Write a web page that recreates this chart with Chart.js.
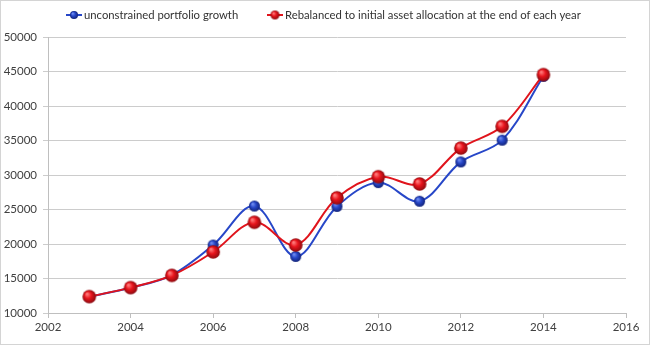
<!DOCTYPE html>
<html><head><meta charset="utf-8">
<script src="https://cdn.jsdelivr.net/npm/chart.js@4/dist/chart.umd.min.js"></script>
<style>
html,body{margin:0;padding:0;background:#fff}
#wrap{position:relative;width:650px;height:345px}
</style></head>
<body><div id="wrap"><canvas id="c"></canvas></div>
<script>
const years = [2003,2004,2005,2006,2007,2008,2009,2010,2011,2012,2013,2014];
const unconstrained = [12350,13650,15500,19850,25500,18200,25450,28900,26200,31900,35050,44300];
const rebalanced   = [12380,13680,15450,18850,23150,19850,26700,29750,28700,33900,37050,44550];
const xTicks = [2002,2004,2006,2008,2010,2012,2014,2016];
const yTicks = [10000,15000,20000,25000,30000,35000,40000,45000,50000];
const seriesNames = ['unconstrained portfolio growth','Rebalanced to initial asset allocation at the end of each year'];

const FONT = 'Lato, "Liberation Sans", sans-serif';

function sphere(r, light, mid, dark){
  const c = document.createElement('canvas');
  const s = Math.ceil(r*2+2);
  c.width = s; c.height = s;
  const g = c.getContext('2d');
  const cx = s/2, cy = s/2;
  const grad = g.createRadialGradient(cx - r*0.35, cy - r*0.4, r*0.1, cx, cy, r);
  grad.addColorStop(0, light);
  grad.addColorStop(0.45, mid);
  grad.addColorStop(1, dark);
  g.beginPath(); g.arc(cx, cy, r, 0, Math.PI*2);
  g.fillStyle = grad; g.fill();
  return c;
}
const blueDot = sphere(5.5, '#6f8cf0', '#2747c8', '#12237a');
const redDot = sphere(6.8, '#ff7a7a', '#e8141c', '#8c0a0e');
const blueLeg = sphere(4, '#6f8cf0', '#2747c8', '#12237a');
const redLeg = sphere(4.5, '#ff7a7a', '#e8141c', '#8c0a0e');

const frame = {
  id:'frame',
  beforeDraw(chart){
    const ctx = chart.ctx;
    ctx.save();
    ctx.fillStyle = '#fff';
    ctx.fillRect(0,0,chart.width,chart.height);
    ctx.restore();
  },
  afterDraw(chart){
    const ctx = chart.ctx;
    ctx.save();
    ctx.strokeStyle = '#d4d4d4';
    ctx.lineWidth = 1;
    ctx.strokeRect(0.5,0.5,chart.width-1,chart.height-1);
    const items = [
      {x:66, color:'#2747c8', dot:blueLeg, text:seriesNames[0]},
      {x:267, color:'#e0141c', dot:redLeg, text:seriesNames[1]}
    ];
    const y = 15;
    ctx.font = '11.3px ' + FONT;
    ctx.textBaseline = 'middle';
    items.forEach(it=>{
      ctx.strokeStyle = it.color; ctx.lineWidth = 2;
      ctx.beginPath(); ctx.moveTo(it.x, y); ctx.lineTo(it.x+16, y); ctx.stroke();
      ctx.drawImage(it.dot, it.x+8-it.dot.width/2, y-it.dot.height/2);
      ctx.fillStyle = '#333';
      ctx.fillText(it.text, it.x+18, y+0.5);
    });
    ctx.restore();
  }
};

new Chart(document.getElementById('c'), {
  type:'line',
  data:{
    datasets:[
      {label:seriesNames[1], data:years.map((x,i)=>({x, y:rebalanced[i]})),
       borderColor:'#e0141c', borderWidth:2, pointStyle:redDot, pointRadius:7, tension:0.35, order:1},
      {label:seriesNames[0], data:years.map((x,i)=>({x, y:unconstrained[i]})),
       borderColor:'#2747c8', borderWidth:2, pointStyle:blueDot, pointRadius:6, tension:0.35, order:2}
    ]
  },
  options:{
    responsive:true, maintainAspectRatio:false, animation:false,
    layout:{padding:{top:37,right:24,left:0,bottom:0}},
    plugins:{legend:{display:false}, tooltip:{enabled:false}},
    scales:{
      x:{type:'linear', min:2002, max:2016,
         afterBuildTicks(s){ s.ticks = xTicks.map(v=>({value:v})); },
         afterFit(s){ s.height = 32; },
         ticks:{callback:v=>String(v), color:'#404040', font:{family:FONT, size:11.5}, padding:2, maxRotation:0},
         grid:{drawOnChartArea:false, drawTicks:true, tickLength:5, color:'#bfbfbf'},
         border:{color:'#bfbfbf'}},
      y:{min:10000, max:50000,
         afterBuildTicks(s){ s.ticks = yTicks.map(v=>({value:v})); },
         afterFit(s){ s.width = 48; },
         ticks:{callback:v=>String(v), color:'#404040', font:{family:FONT, size:11.5}, padding:6},
         grid:{color:'#cccccc', tickLength:5, drawTicks:true},
         border:{color:'#bfbfbf'}}
    }
  },
  plugins:[frame]
});
</script>
</body></html>
